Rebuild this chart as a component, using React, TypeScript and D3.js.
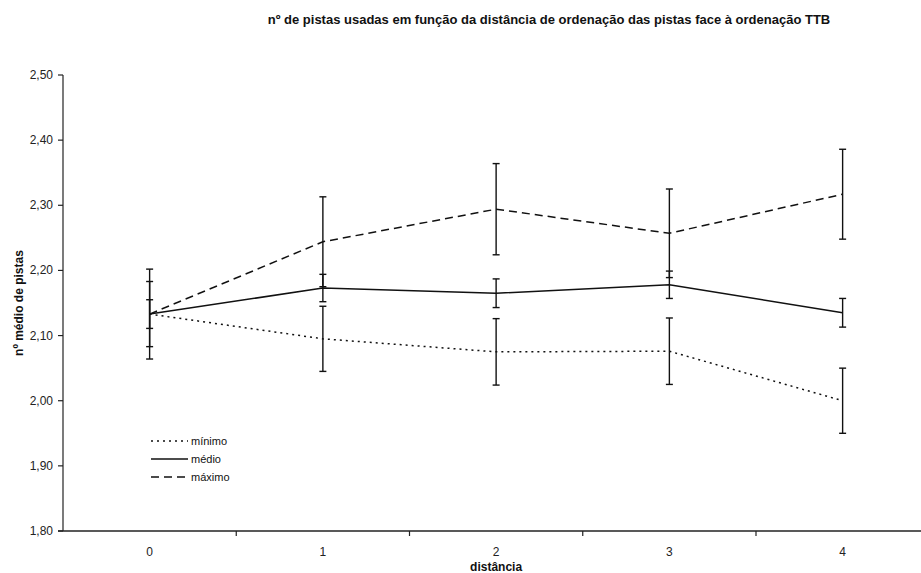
import React from "react";
import * as d3 from "d3";

const categories = ["0", "1", "2", "3", "4"];
const minimo = [2.133, 2.095, 2.075, 2.076, 2.0];
const medio = [2.133, 2.173, 2.165, 2.178, 2.135];
const maximo = [2.133, 2.244, 2.294, 2.257, 2.317];
const errMinimo = [0.05, 0.05, 0.051, 0.051, 0.05];
const errMedio = [0.022, 0.021, 0.022, 0.021, 0.022];
const errMaximo = [0.069, 0.069, 0.07, 0.068, 0.069];
const yTicks = [1.8, 1.9, 2.0, 2.1, 2.2, 2.3, 2.4, 2.5];

const title = "nº de pistas usadas em função da distância de ordenação das pistas face à ordenação TTB";
const yLabel = "nº médio de pistas";
const xLabel = "distância";

const series = [
  { name: "mínimo", values: minimo, errs: errMinimo, dash: "2,4" },
  { name: "médio", values: medio, errs: errMedio, dash: null },
  { name: "máximo", values: maximo, errs: errMaximo, dash: "8,5" },
];

const locale = d3.formatLocale({ decimal: ",", thousands: ".", grouping: [3], currency: ["", "€"] });
const fmt = locale.format(".2f");

export default function App() {
  const W = 921, H = 573;
  const left = 63, top = 75, bottom = 531;
  const x = d3.scaleBand<string>().domain(categories).range([left, left + 5 * 173.25]).padding(0);
  const y = d3.scaleLinear().domain([1.8, 2.5]).range([bottom, top]);
  const cx = (c: string) => (x(c) as number) + x.bandwidth() / 2;
  const font = "'Liberation Sans', Arial, sans-serif";
  const line = d3
    .line<number>()
    .x((_, i) => cx(categories[i]))
    .y((d) => y(d));

  return (
    <svg width={W} height={H} style={{ position: "absolute", left: 0, top: 0, background: "#fff" }} fontFamily={font}>
      <rect x={0} y={0} width={W} height={H} fill="#fff" />
      <text x={549} y={24} textAnchor="middle" fontSize={13} fontWeight="bold" fill="#111">
        {title}
      </text>
      {/* y axis */}
      <line x1={left} x2={left} y1={top} y2={bottom} stroke="#222" strokeWidth={1.2} />
      {yTicks.map((t) => (
        <g key={t}>
          <line x1={left - 5} x2={left} y1={y(t)} y2={y(t)} stroke="#222" strokeWidth={1.2} />
          <text x={53} y={y(t) + 4} textAnchor="end" fontSize={12} fill="#222">
            {fmt(t)}
          </text>
        </g>
      ))}
      <text transform={`translate(23,${(top + bottom) / 2}) rotate(-90)`} textAnchor="middle" fontSize={12} fontWeight="bold" fill="#111">
        {yLabel}
      </text>
      {/* x axis */}
      <line x1={left - 5} x2={W} y1={bottom} y2={bottom} stroke="#222" strokeWidth={1.4} />
      {categories.map((c, i) =>
        i > 0 ? (
          <line key={"t" + c} x1={x(c) as number} x2={x(c) as number} y1={bottom} y2={bottom + 5} stroke="#222" strokeWidth={1.2} />
        ) : null
      )}
      {categories.map((c) => (
        <text key={"l" + c} x={cx(c)} y={556} textAnchor="middle" fontSize={12} fill="#222">
          {c}
        </text>
      ))}
      <text x={cx("2")} y={571} textAnchor="middle" fontSize={12} fontWeight="bold" fill="#111">
        {xLabel}
      </text>
      {/* series lines */}
      {series.map((s) => (
        <path key={s.name} d={line(s.values) as string} fill="none" stroke="#111" strokeWidth={1.5} strokeDasharray={s.dash ?? undefined} />
      ))}
      {/* error bars */}
      {series.map((s) =>
        s.values.map((v, i) => {
          const px = cx(categories[i]);
          const y1 = y(v + s.errs[i]);
          const y2 = y(v - s.errs[i]);
          return (
            <g key={s.name + i} stroke="#111" strokeWidth={1.4}>
              <line x1={px} x2={px} y1={y1} y2={y2} />
              <line x1={px - 3.5} x2={px + 3.5} y1={y1} y2={y1} />
              <line x1={px - 3.5} x2={px + 3.5} y1={y2} y2={y2} />
            </g>
          );
        })
      )}
      {/* legend */}
      {series.map((s, i) => {
        const ly = 441 + i * 18;
        return (
          <g key={"leg" + s.name}>
            <line x1={151} x2={188} y1={ly} y2={ly} stroke="#111" strokeWidth={1.5} strokeDasharray={s.dash ?? undefined} />
            <text x={191} y={ly + 4} fontSize={11} fill="#111">
              {s.name}
            </text>
          </g>
        );
      })}
    </svg>
  );
}
